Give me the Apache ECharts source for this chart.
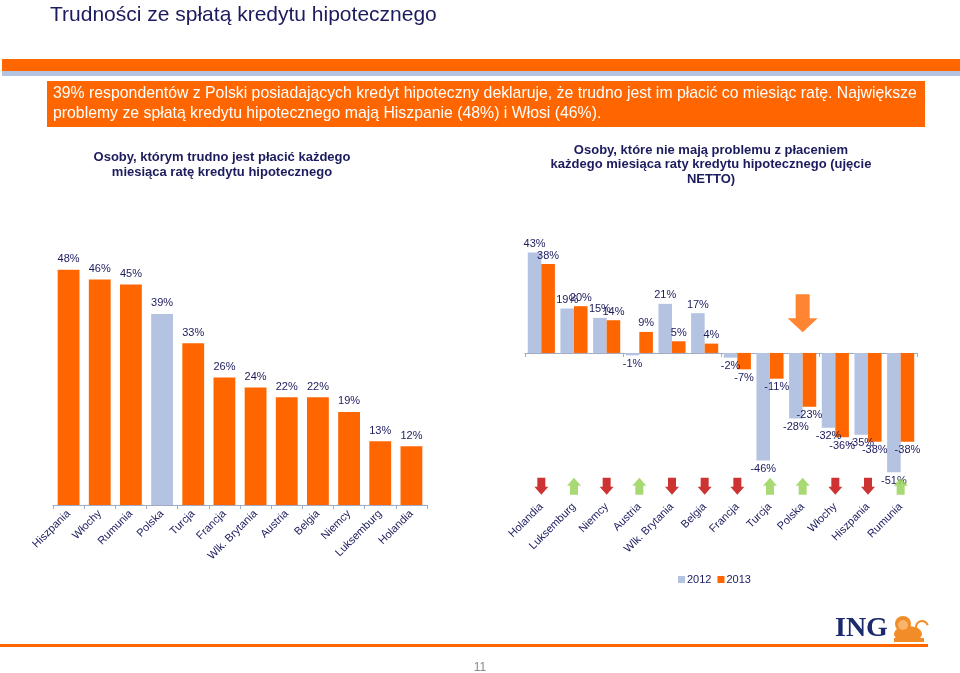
<!DOCTYPE html>
<html>
<head>
<meta charset="utf-8">
<script src="https://cdn.jsdelivr.net/npm/echarts@6/dist/echarts.min.js"></script>
<style>html,body{margin:0;padding:0;background:#fff}#c{width:960px;height:673px}</style>
</head>
<body>
<div id="c"></div>
<script>
// ---- data ----
const leftCategories = ['Hiszpania','Włochy','Rumunia','Polska','Turcja','Francja','Wlk. Brytania','Austria','Belgia','Niemcy','Luksemburg','Holandia'];
const leftValues = [48,46,45,39,33,26,24,22,22,19,13,12];
const highlightCountry = 'Polska';

const rightCategories = ['Holandia','Luksemburg','Niemcy','Austria','Wlk. Brytania','Belgia','Francja','Turcja','Polska','Włochy','Hiszpania','Rumunia'];
const values2012 = [43,19,15,-1,21,17,-2,-46,-28,-32,-35,-51];
const values2013 = [38,20,14,9,5,4,-7,-11,-23,-36,-38,-38];
const seriesNames = ['2012','2013'];

// ---- styles ----
const ORANGE = '#FF6600';
const BLUE = '#B4C3E1';
const NAVY = '#1B1B5E';
const FONT = '"Liberation Sans", Arial, sans-serif';
const AXIS = '#A3AAC6';

const downArrow = 'path://M3,0 L11,0 L11,9 L14,9 L7,17 L0,9 L3,9 Z';
const upArrow = 'path://M7,0 L14,8 L11,8 L11,17 L3,17 L3,8 L0,8 Z';
const bigDown = 'path://M8,0 L22,0 L22,24 L30,24 L15,38 L0,24 L8,24 Z';

const pct = v => v + '%';
const withLabelPos = arr => arr.map(v => ({value: v, label: {position: v < 0 ? 'bottom' : 'top'}}));

const chart = echarts.init(document.getElementById('c'), null, {renderer: 'canvas'});

const option = {
  animation: false,
  textStyle: {fontFamily: FONT},
  title: {
    text: 'Trudności ze spłatą kredytu hipotecznego',
    left: 45, top: 0,
    textStyle: {fontSize: 21, fontWeight: 'normal', color: NAVY, fontFamily: FONT}
  },
  legend: {
    data: seriesNames,
    left: 673, top: 569,
    icon: 'rect', itemWidth: 7, itemHeight: 7, itemGap: 6,
    textStyle: {fontSize: 11, color: NAVY, fontFamily: FONT, padding: [0,0,0,-3]}
  },
  grid: [
    {left: 53, right: 533, top: 260, bottom: 168, containLabel: false},
    {left: 525, right: 43, top: 236, bottom: 175, containLabel: false}
  ],
  xAxis: [
    {
      gridIndex: 0, type: 'category', data: leftCategories,
      axisLine: {lineStyle: {color: AXIS}},
      axisTick: {show: true, length: 4, lineStyle: {color: AXIS}},
      axisLabel: {rotate: 45, margin: 7, fontSize: 11, color: NAVY, fontFamily: FONT, interval: 0}
    },
    {
      gridIndex: 1, type: 'category', data: rightCategories, position: 'bottom',
      axisLine: {show: false, onZero: false},
      axisTick: {show: false},
      axisLabel: {rotate: 45, margin: 7, fontSize: 11, color: NAVY, fontFamily: FONT, interval: 0}
    },
    {
      gridIndex: 1, type: 'category', data: rightCategories, position: 'top',
      axisLine: {show: true, onZero: true, lineStyle: {color: AXIS}},
      axisTick: {show: true, inside: true, length: 4, lineStyle: {color: AXIS}},
      axisLabel: {show: false}
    }
  ],
  yAxis: [
    {gridIndex: 0, type: 'value', min: 0, max: 50, show: false, splitLine: {show: false}},
    {gridIndex: 1, type: 'value', min: -62, max: 50, show: false, splitLine: {show: false}}
  ],
  series: [
    {
      name: 'left', type: 'bar', xAxisIndex: 0, yAxisIndex: 0,
      barCategoryGap: '30%',
      data: leftValues.map((v, i) => ({
        value: v,
        itemStyle: {color: leftCategories[i] === highlightCountry ? BLUE : ORANGE}
      })),
      label: {show: true, position: 'top', distance: 5, formatter: p => pct(p.value), fontSize: 11, color: NAVY, fontFamily: FONT}
    },
    {
      name: seriesNames[0], type: 'bar', xAxisIndex: 1, yAxisIndex: 1,
      barGap: '0%', barCategoryGap: '17%',
      itemStyle: {color: BLUE},
      data: withLabelPos(values2012),
      label: {show: true, distance: 3, formatter: p => pct(p.value), fontSize: 11, color: NAVY, fontFamily: FONT}
    },
    {
      name: seriesNames[1], type: 'bar', xAxisIndex: 1, yAxisIndex: 1,
      barGap: '0%', barCategoryGap: '17%',
      itemStyle: {color: ORANGE},
      data: withLabelPos(values2013),
      label: {show: true, distance: 3, formatter: p => pct(p.value), fontSize: 11, color: NAVY, fontFamily: FONT}
    },
    {
      name: 'change', type: 'scatter', xAxisIndex: 1, yAxisIndex: 1,
      silent: true, z: 5,
      data: rightCategories.map((c, i) => {
        const up = values2013[i] > values2012[i];
        return {
          value: [c, -57],
          symbol: up ? upArrow : downArrow,
          symbolSize: [14, 17],
          itemStyle: {color: up ? '#92D050' : '#C00000'}
        };
      })
    },
    {
      name: 'focus', type: 'scatter', xAxisIndex: 1, yAxisIndex: 1,
      silent: true, z: 5,
      data: [{value: [highlightCountry, 17], symbol: bigDown, symbolSize: [30, 38], itemStyle: {color: ORANGE}}]
    }
  ],
  graphic: [
    {type: 'rect', shape: {x: 2, y: 59, width: 958, height: 12}, style: {fill: ORANGE}, silent: true},
    {type: 'rect', shape: {x: 2, y: 71, width: 958, height: 5}, style: {fill: BLUE}, silent: true},
    {type: 'rect', shape: {x: 47, y: 81, width: 878, height: 46}, style: {fill: ORANGE}, silent: true},
    {type: 'text', x: 53, y: 83, scaleX: 0.93, silent: true, style: {
      text: '39% respondentów z Polski posiadających kredyt hipoteczny deklaruje, że trudno jest im płacić co miesiąc ratę. Największe\nproblemy ze spłatą kredytu hipotecznego mają Hiszpanie (48%) i Włosi (46%).',
      fill: '#fff', font: '17px ' + FONT, lineHeight: 20
    }},
    {type: 'text', x: 222, y: 150, silent: true, style: {
      text: 'Osoby, którym trudno jest płacić każdego\nmiesiąca ratę kredytu hipotecznego',
      fill: NAVY, font: 'bold 13px ' + FONT, lineHeight: 15, align: 'center'
    }},
    {type: 'text', x: 711, y: 143, silent: true, style: {
      text: 'Osoby, które nie mają problemu z płaceniem\nkażdego miesiąca raty kredytu hipotecznego (ujęcie\nNETTO)',
      fill: NAVY, font: 'bold 13px ' + FONT, lineHeight: 14.5, align: 'center'
    }},
    {type: 'text', x: 835, y: 615, silent: true, style: {
      text: 'ING', fill: '#1A2A6C', font: 'bold 28px "Liberation Serif", "DejaVu Serif", serif'
    }},
    // lion (decorative)
    {type: 'group', x: 894, y: 614, silent: true, children: [
      {type: 'ellipse', shape: {cx: 14, cy: 20, rx: 14, ry: 8}, style: {fill: '#F28C28'}},
      {type: 'circle', shape: {cx: 9, cy: 10, r: 8}, style: {fill: '#F28C28'}},
      {type: 'circle', shape: {cx: 9, cy: 11, r: 5}, style: {fill: '#F9B46A'}},
      {type: 'rect', shape: {x: 0, y: 24, width: 30, height: 4}, style: {fill: '#F28C28'}},
      {type: 'arc', shape: {cx: 28, cy: 13, r: 6, startAngle: Math.PI * 0.6, endAngle: Math.PI * 1.9}, style: {stroke: '#F28C28', lineWidth: 2, fill: null}}
    ]},
    {type: 'rect', shape: {x: 0, y: 644, width: 928, height: 3}, style: {fill: ORANGE}, silent: true},
    {type: 'text', x: 480, y: 662, silent: true, style: {text: '11', fill: '#8A8A8A', font: '12px ' + FONT, align: 'center'}}
  ]
};

chart.setOption(option);
</script>
</body>
</html>
